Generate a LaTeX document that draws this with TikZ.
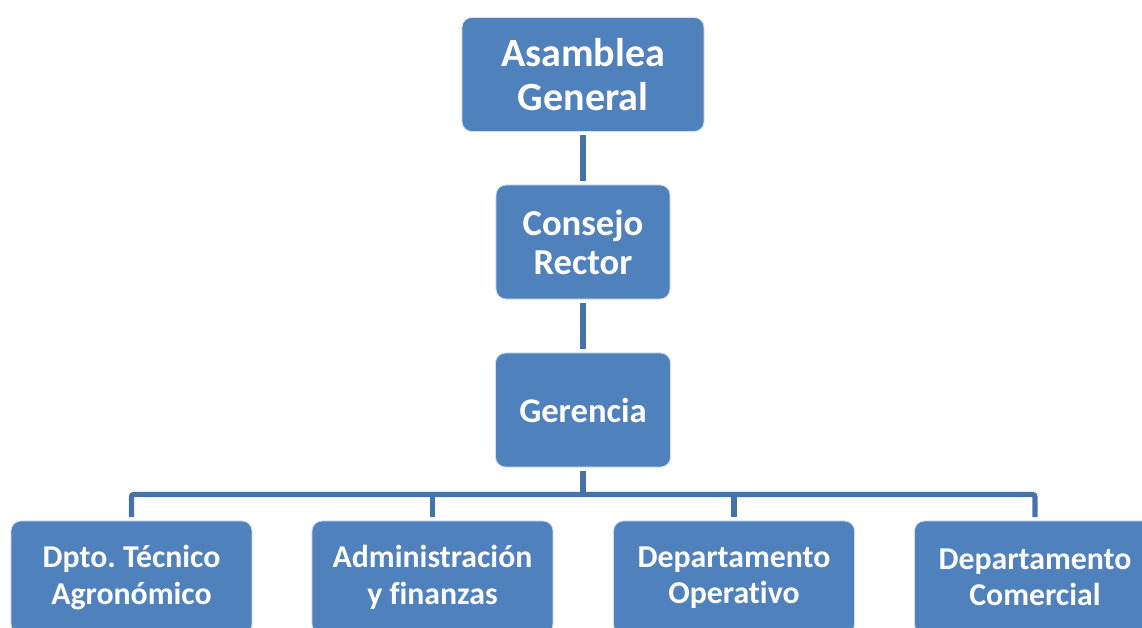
\documentclass[tikz,border=0pt]{standalone}
\usepackage{fontspec}
\setmainfont{Carlito}[Ligatures=NoCommon]
\usetikzlibrary{positioning,calc}

\definecolor{boxblue}{HTML}{4F81BD}
\definecolor{lineblue}{HTML}{4672AA}

\begin{document}
\frenchspacing
\begin{tikzpicture}[
  x=0.025cm, y=-0.025cm,
  unit/.style={draw=white!75!boxblue, line width=0.6pt, fill=boxblue, rounded corners=7pt,
    text=white, align=center, inner sep=0pt, font=\bfseries},
  topunit/.style={unit, minimum height=2.85cm},
  dptunit/.style={unit, minimum width=6.025cm, minimum height=2.825cm,
    font=\fontsize{22.6}{26}\selectfont\bfseries},
  link/.style={draw=lineblue, line width=3.6pt, shorten <=2.5pt, shorten >=2.5pt},
]
  \useasboundingbox (0,0) rectangle (1142,628);
  \clip (0,0) rectangle (1142,628);

  % Upper chain
  \node[topunit, minimum width=6.05cm, font=\fontsize{28.5}{31.3}\selectfont\bfseries]
    (asamblea) at (583,74.5) {Asamblea\\General};
  \node[topunit, minimum width=4.35cm, font=\fontsize{26}{27.5}\selectfont\bfseries]
    (consejo) at (583,242) {Consejo\\Rector};
  \node[topunit, minimum width=4.375cm, font=\fontsize{24.6}{29}\selectfont\bfseries]
    (gerencia) at (583,410) {Gerencia};

  \draw[link] (asamblea) -- (consejo);
  \draw[link] (consejo) -- (gerencia);

  % Departments
  \node[dptunit] (tecnico) at (131.5,577.5) {Dpto. Técnico\\Agronómico};
  \node[dptunit] (admin) at (432.5,577.5) {Administración\\y finanzas};
  \node[dptunit] (operativo) at (734,577.5) {Departamento\\Operativo};
  \node[dptunit] (comercial) at (1035,577.5) {Departamento\\Comercial};

  % Bus
  \coordinate (bus) at (583,494.5);
  \draw[link, shorten >=0pt] (gerencia) -- (bus);
  \draw[link, rounded corners=1.5pt] (tecnico.north) |- (bus) -| (comercial.north);
  \draw[link, shorten <=0pt] (admin.north |- bus) -- (admin.north);
  \draw[link, shorten <=0pt] (operativo.north |- bus) -- (operativo.north);

\end{tikzpicture}
\end{document}
